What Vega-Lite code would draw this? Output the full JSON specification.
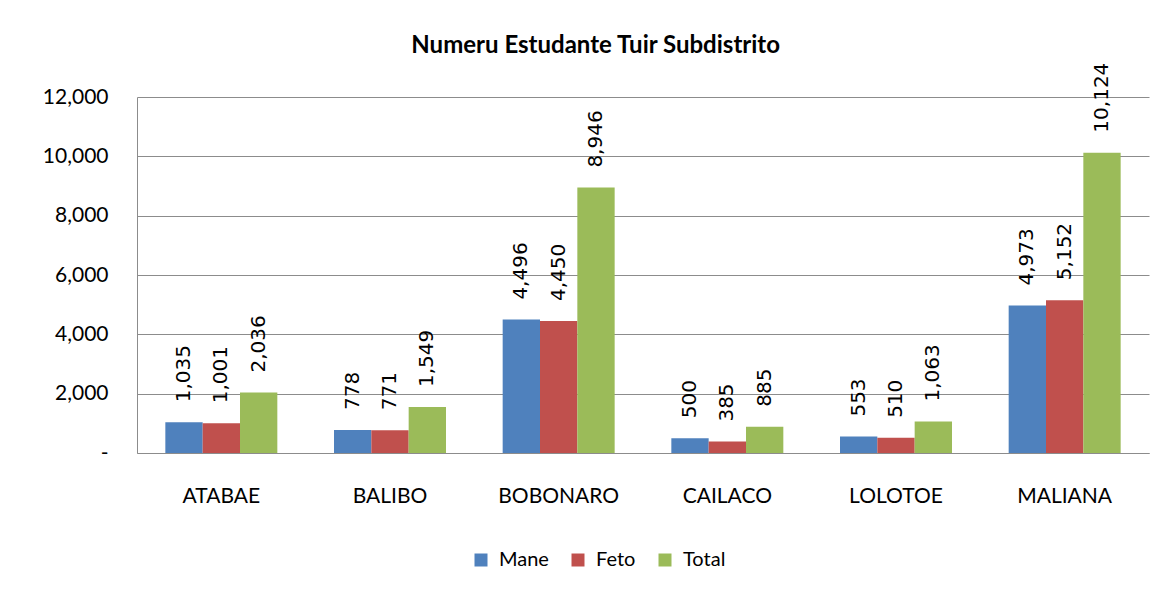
{
  "$schema": "https://vega.github.io/schema/vega-lite/v6.json",
  "autosize": {"type": "none"},
  "width": 1012,
  "height": 356,
  "padding": {"left": 137, "top": 97, "right": 20, "bottom": 139},
  "background": "white",
  "title": {
    "text": "Numeru Estudante Tuir Subdistrito",
    "font": "Lato",
    "fontSize": 24,
    "fontWeight": "bold",
    "color": "#000000",
    "anchor": "middle",
    "frame": "bounds",
    "offset": 5
  },
  "config": {
    "view": {"stroke": null},
    "font": "Lato"
  },
  "data": {
    "values": [
      {"subdistrito": "ATABAE", "serie": "Mane", "valor": 1035},
      {"subdistrito": "ATABAE", "serie": "Feto", "valor": 1001},
      {"subdistrito": "ATABAE", "serie": "Total", "valor": 2036},
      {"subdistrito": "BALIBO", "serie": "Mane", "valor": 778},
      {"subdistrito": "BALIBO", "serie": "Feto", "valor": 771},
      {"subdistrito": "BALIBO", "serie": "Total", "valor": 1549},
      {"subdistrito": "BOBONARO", "serie": "Mane", "valor": 4496},
      {"subdistrito": "BOBONARO", "serie": "Feto", "valor": 4450},
      {"subdistrito": "BOBONARO", "serie": "Total", "valor": 8946},
      {"subdistrito": "CAILACO", "serie": "Mane", "valor": 500},
      {"subdistrito": "CAILACO", "serie": "Feto", "valor": 385},
      {"subdistrito": "CAILACO", "serie": "Total", "valor": 885},
      {"subdistrito": "LOLOTOE", "serie": "Mane", "valor": 553},
      {"subdistrito": "LOLOTOE", "serie": "Feto", "valor": 510},
      {"subdistrito": "LOLOTOE", "serie": "Total", "valor": 1063},
      {"subdistrito": "MALIANA", "serie": "Mane", "valor": 4973},
      {"subdistrito": "MALIANA", "serie": "Feto", "valor": 5152},
      {"subdistrito": "MALIANA", "serie": "Total", "valor": 10124}
    ]
  },
  "encoding": {
    "x": {
      "field": "subdistrito",
      "type": "nominal",
      "sort": null,
      "scale": {"paddingInner": 0.336, "paddingOuter": 0.168},
      "axis": {
        "title": null,
        "labelAngle": 0,
        "labelFont": "Lato",
        "labelFontSize": 21,
        "labelColor": "#000000",
        "labelPadding": 32,
        "ticks": false,
        "domainColor": "#8c8c8c",
        "domainWidth": 1
      }
    },
    "xOffset": {
      "field": "serie",
      "type": "nominal",
      "sort": ["Mane", "Feto", "Total"],
      "scale": {"paddingInner": 0, "paddingOuter": 0}
    },
    "y": {
      "field": "valor",
      "type": "quantitative",
      "scale": {"domain": [0, 12000], "nice": false},
      "axis": {
        "title": null,
        "values": [0, 2000, 4000, 6000, 8000, 10000, 12000],
        "labelExpr": "datum.value == 0 ? '-' : format(datum.value, ',')",
        "labelFont": "Lato",
        "labelFontSize": 21,
        "labelColor": "#000000",
        "labelPadding": 29,
        "ticks": false,
        "domainColor": "#8c8c8c",
        "gridColor": "#8c8c8c",
        "gridWidth": 1
      }
    }
  },
  "layer": [
    {
      "mark": {"type": "bar"},
      "encoding": {
        "color": {
          "field": "serie",
          "type": "nominal",
          "sort": ["Mane", "Feto", "Total"],
          "scale": {"domain": ["Mane", "Feto", "Total"], "range": ["#4f81bd", "#c0504d", "#9bbb59"]},
          "legend": {
            "title": null,
            "orient": "none",
            "direction": "horizontal",
            "legendX": 334,
            "legendY": 453,
            "symbolType": "square",
            "symbolSize": 169,
            "symbolStrokeWidth": 0,
            "symbolOpacity": 1,
            "labelFont": "Lato",
            "labelFontSize": 20,
            "labelColor": "#000000",
            "labelOffset": 8,
            "columnPadding": 19
          }
        }
      }
    },
    {
      "mark": {
        "type": "text",
        "angle": 270,
        "align": "left",
        "baseline": "middle",
        "dx": 20,
        "font": "DejaVu Sans",
        "fontSize": 20,
        "color": "#000000"
      },
      "encoding": {
        "text": {"field": "valor", "type": "quantitative", "format": ","}
      }
    }
  ]
}
